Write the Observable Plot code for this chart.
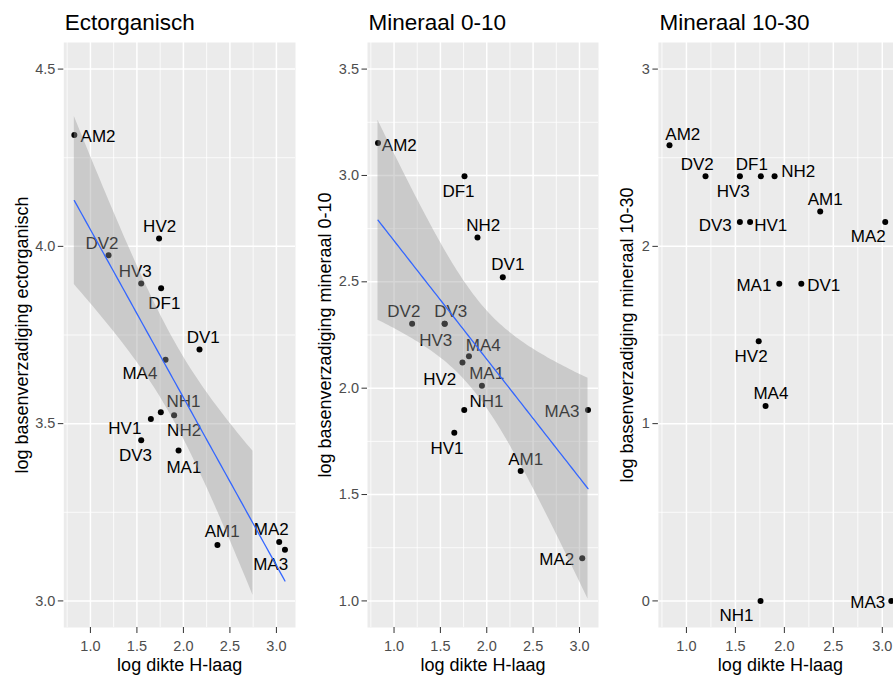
<!DOCTYPE html>
<html>
<head>
<meta charset="utf-8">
<script src="https://cdn.jsdelivr.net/npm/d3@7"></script>
<script src="https://cdn.jsdelivr.net/npm/@observablehq/plot@0.6"></script>
<style>
  html, body { margin: 0; padding: 0; background: #ffffff; overflow: hidden; }
  #chart { position: relative; width: 893px; height: 678px; overflow: hidden; background: #ffffff; }
  #chart .panel { position: absolute; top: 0; }
  #chart svg { max-width: none; }
</style>
</head>
<body>
<div id="chart"></div>
<script>
// Sites and their log-transformed measurements
const sites = ["AM1", "AM2", "DF1", "DV1", "DV2", "DV3", "HV1", "HV2", "HV3", "MA1", "MA2", "MA3", "MA4", "NH1", "NH2"];
const logDikte = [2.366, 0.827, 1.760, 2.173, 1.195, 1.546, 1.650, 1.738, 1.546, 1.948, 3.030, 3.092, 1.808, 1.757, 1.900];
const ectorganisch = [3.158, 4.314, 3.882, 3.709, 3.975, 3.453, 3.513, 4.022, 3.895, 3.424, 3.166, 3.144, 3.680, 3.532, 3.524];
const mineraal010 = [1.611, 3.152, 2.996, 2.522, 2.303, 2.303, 1.790, 2.121, 2.303, 2.012, 1.201, 1.898, 2.150, 1.898, 2.708];
const mineraal1030 = [2.196, 2.571, 2.395, 1.789, 2.395, 2.137, 2.137, 1.465, 2.395, 1.789, 2.137, 0.000, 1.100, 0.000, 2.395];

// Axis ticks and y limits per panel
const xTicks = [1.0, 1.5, 2.0, 2.5, 3.0];
const yTicksEcto = [3.0, 3.5, 4.0, 4.5];
const yTicksMin010 = [1.0, 1.5, 2.0, 2.5, 3.0, 3.5];
const yTicksMin1030 = [0, 1, 2, 3];
const yLimitsEcto = [3, 4.5];
const yLimitsMin010 = [1, 3.5];
const yLimitsMin1030 = [0, 3];

// Label nudges (pixels) so the site names sit beside their points
const nudgeEcto = {
  AM1: [4.7, -13.3], AM2: [23.7, 2], DF1: [3.3, 15.7], DV1: [3.7, -12], DV2: [-6.6, -11.7],
  DV3: [-5.7, 15], HV1: [-26, 9.7], HV2: [0.6, -12], HV3: [-6, -11.7], MA1: [5.3, 16.7],
  MA2: [-8, -12.3], MA3: [-14.3, 15], MA4: [-25.7, 13.7], NH1: [22.7, -11], NH2: [10, 15.3]
};
const nudgeMin010 = {
  AM1: [5, -11], AM2: [21.3, 2], DF1: [-6, 15.7], DV1: [5, -12.7], DV2: [-8.3, -12],
  DV3: [6, -12], HV1: [-7.3, 16], HV2: [-22.7, 16.7], HV3: [-9, 17], MA1: [4.7, -12],
  MA2: [-25.4, 1.7], MA3: [-26, 1.4], MA4: [14.3, -10.7], NH1: [22.3, -8.3], NH2: [5.7, -11.7]
};
const nudgeMin1030 = {
  AM1: [5, -11.7], AM2: [13.3, -11], DF1: [-9, -12], DV1: [22.4, 1.3], DV2: [-8.3, -12],
  DV3: [-24.7, 3.7], HV1: [20.7, 3.7], HV2: [-7.6, 15.6], HV3: [-6.7, 15.7], MA1: [-25.4, 1.3],
  MA2: [-17, 14.3], MA3: [-23.6, 1.7], MA4: [5.3, -12], NH1: [-24, 15], NH2: [23.6, -4.5]
};

const FONT = "'Liberation Sans', Arial, Helvetica, sans-serif";
const T975 = {13: 2.160369}; // Student t, 97.5% quantile by degrees of freedom

// 5% padding around a range
function expand([a, b], f = 0.05) {
  const d = (b - a) * f;
  return [a - d, b + d];
}

// Half-step gridline positions between (and just beyond) the major ticks
function minorOf(ticks, domain) {
  const step = ticks[1] - ticks[0];
  const out = [];
  for (let v = ticks[0] - step / 2; v <= domain[1] + 1e-9; v += step) {
    if (v >= domain[0]) out.push(+v.toFixed(6));
  }
  return out;
}

// Least-squares fit with a 95% confidence band, evaluated on 80 points;
// values outside the y limits are dropped (gaps in the band)
function lmBand(xs, ys, limits, n = 80) {
  const N = xs.length;
  const mx = d3.mean(xs), my = d3.mean(ys);
  const sxx = d3.sum(xs, x => (x - mx) ** 2);
  const sxy = d3.sum(xs.map((x, i) => (x - mx) * (ys[i] - my)));
  const b = sxy / sxx, a = my - b * mx;
  const sse = d3.sum(xs.map((x, i) => (ys[i] - a - b * x) ** 2));
  const s = Math.sqrt(sse / (N - 2));
  const t = T975[N - 2];
  const [x0, x1] = d3.extent(xs);
  const inside = v => v >= limits[0] && v <= limits[1];
  return d3.range(n).map(i => {
    const x = x0 + (x1 - x0) * i / (n - 1);
    const fit = a + b * x;
    const se = s * Math.sqrt(1 / N + (x - mx) ** 2 / sxx);
    const lo = fit - t * se, hi = fit + t * se;
    const ok = inside(lo) && inside(hi);
    return {x, fit: inside(fit) ? fit : NaN, lo: ok ? lo : NaN, hi: ok ? hi : NaN};
  });
}

const xDomain = expand(d3.extent(logDikte));

const panels = [
  {title: "Ectorganisch", ylabel: "log basenverzadiging ectorganisch", values: ectorganisch,
   yTicks: yTicksEcto, yLimits: yLimitsEcto, yFormat: d3.format(".1f"), nudge: nudgeEcto, smooth: true,
   left: 0, width: 298, marginLeft: 63.3, marginRight: 3, yTitleDx: -41.6},
  {title: "Mineraal 0-10", ylabel: "log basenverzadiging mineraal 0-10", values: mineraal010,
   yTicks: yTicksMin010, yLimits: yLimitsMin010, yFormat: d3.format(".1f"), nudge: nudgeMin010, smooth: true,
   left: 298, width: 302, marginLeft: 69, marginRight: 2, yTitleDx: -41.8},
  {title: "Mineraal 10-30", ylabel: "log basenverzadiging mineraal 10-30", values: mineraal1030,
   yTicks: yTicksMin1030, yLimits: yLimitsMin1030, yFormat: d3.format("d"), nudge: nudgeMin1030, smooth: false,
   left: 600, width: 305, marginLeft: 57.9, marginRight: 3.1, yTitleDx: -31.2}
];

const chart = document.getElementById("chart");

for (const p of panels) {
  const rows = sites.map((site, i) => ({site, x: logDikte[i], y: p.values[i]}));
  const yDomain = expand(p.yLimits);
  const marks = [
    Plot.frame({fill: "#EBEBEB", stroke: "none"}),
    Plot.gridX(minorOf(xTicks, xDomain), {stroke: "#ffffff", strokeOpacity: 1, strokeWidth: 0.8}),
    Plot.gridY(minorOf(p.yTicks, yDomain), {stroke: "#ffffff", strokeOpacity: 1, strokeWidth: 0.8}),
    Plot.gridX(xTicks, {stroke: "#ffffff", strokeOpacity: 1, strokeWidth: 1.5}),
    Plot.gridY(p.yTicks, {stroke: "#ffffff", strokeOpacity: 1, strokeWidth: 1.5}),
    Plot.dot(rows, {x: "x", y: "y", r: 3, fill: "#000000", stroke: "none"}),
    ...rows.map(r => Plot.text([r], {
      x: "x", y: "y", text: "site", dx: p.nudge[r.site][0], dy: p.nudge[r.site][1],
      fontSize: 17, fill: "#000000", textAnchor: "middle", lineAnchor: "middle"
    }))
  ];
  if (p.smooth) {
    const band = lmBand(logDikte, p.values, p.yLimits);
    marks.push(
      Plot.areaY(band, {x: "x", y1: "lo", y2: "hi", fill: "#999999", fillOpacity: 0.4}),
      Plot.line(band, {x: "x", y: "fit", stroke: "#3366FF", strokeWidth: 1.3})
    );
  }
  marks.push(
    Plot.axisX(xTicks, {tickSize: 6, tickPadding: 7, fontSize: 14.5, fill: "#4D4D4D", stroke: "#333333",
      tickFormat: d3.format(".1f"), label: null}),
    Plot.axisY(p.yTicks, {tickSize: 5.5, tickPadding: 3, fontSize: 14.5, fill: "#4D4D4D", stroke: "#333333",
      tickFormat: p.yFormat, label: null}),
    Plot.text([p.title], {frameAnchor: "top-left", textAnchor: "start", lineAnchor: "middle",
      dx: 1, dy: -19.5, fontSize: 22.5, fill: "#000000"}),
    Plot.text(["log dikte H-laag"], {frameAnchor: "bottom", textAnchor: "middle", lineAnchor: "middle",
      dy: 37.9, fontSize: 18, fill: "#000000"}),
    Plot.text([p.ylabel], {frameAnchor: "left", textAnchor: "middle", lineAnchor: "middle",
      rotate: -90, dx: p.yTitleDx, fontSize: 18, fill: "#000000"})
  );

  const svg = Plot.plot({
    width: p.width,
    height: 678,
    marginTop: 42,
    marginBottom: 51,
    marginLeft: p.marginLeft,
    marginRight: p.marginRight,
    x: {domain: xDomain, axis: null, label: null},
    y: {domain: yDomain, axis: null, label: null},
    style: {fontFamily: FONT, background: "transparent", overflow: "visible"},
    marks
  });
  const holder = document.createElement("div");
  holder.className = "panel";
  holder.style.left = p.left + "px";
  holder.appendChild(svg);
  chart.appendChild(holder);
}
</script>
</body>
</html>
